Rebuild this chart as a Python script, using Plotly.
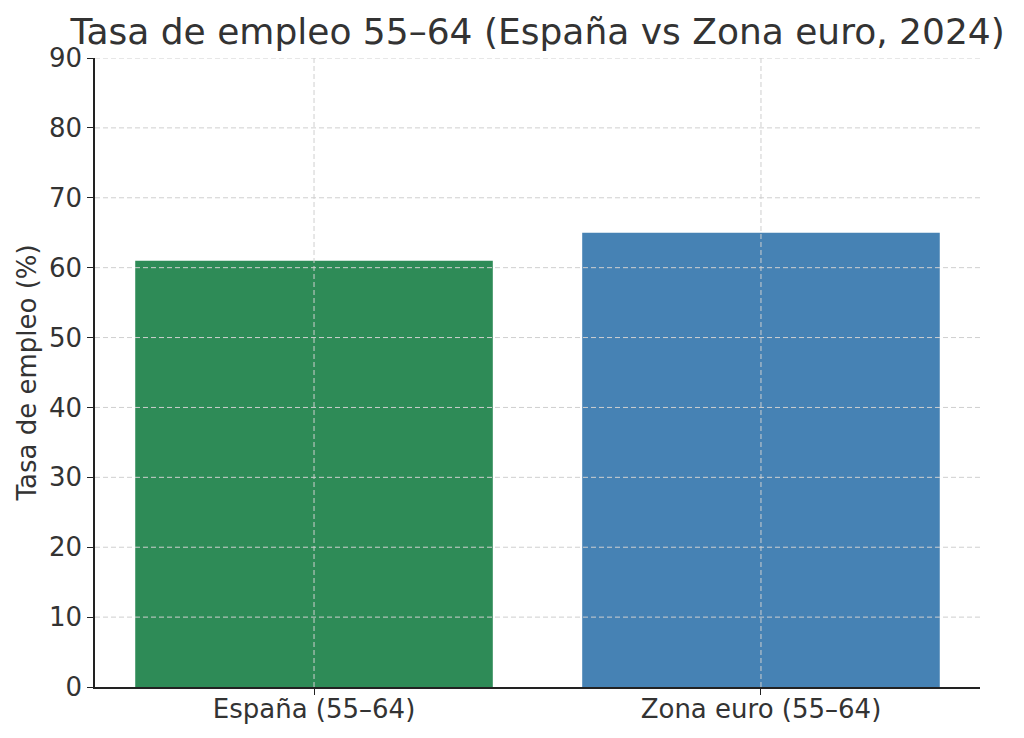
import plotly.graph_objects as go

categories = ["España (55–64)", "Zona euro (55–64)"]
values = [61.0, 65.0]
colors = ["#2E8B57", "#4682B4"]
y_ticks = [0, 10, 20, 30, 40, 50, 60, 70, 80, 90]

FONT = "DejaVu Sans"
TXT = "#333333"

fig = go.Figure()
fig.add_trace(go.Bar(
    x=[0, 1], y=values, width=0.8,
    marker=dict(color=colors, line=dict(width=0)),
    showlegend=False,
))

grid = dict(color="#cfcfcf", width=1, dash="5px,3px")
shapes = []
for t in y_ticks[1:]:
    shapes.append(dict(type="line", xref="paper", x0=0, x1=1, yref="y", y0=t, y1=t,
                       line=grid, layer="above"))
for i in range(len(categories)):
    shapes.append(dict(type="line", xref="x", x0=i, x1=i, yref="paper", y0=0, y1=1,
                       line=grid, layer="above"))

fig.update_layout(
    width=1024, height=738,
    margin=dict(l=95, r=44, t=58, b=51, autoexpand=False),
    paper_bgcolor="white", plot_bgcolor="white",
    font=dict(family=FONT, color=TXT, size=26),
    title=dict(text="Tasa de empleo 55–64 (España vs Zona euro, 2024)",
               x=0.525, xanchor="center", y=0.958, yanchor="middle",
               font=dict(size=36, family=FONT, color=TXT), automargin=False),
    shapes=shapes,
    bargap=0.2,
)
fig.update_xaxes(
    range=[-0.49, 1.49], tickvals=[0, 1], ticktext=categories,
    showgrid=False, zeroline=False, automargin=False,
    showline=True, linecolor="#222222", linewidth=1.6,
    ticks="outside", ticklen=6, tickwidth=1.2, tickcolor="#222222",
    tickfont=dict(size=26, family=FONT, color=TXT),
    ticklabelstandoff=-8,
)
fig.update_yaxes(
    range=[0, 90], tickvals=y_ticks,
    showgrid=False, zeroline=False, automargin=False,
    showline=True, linecolor="#222222", linewidth=1.6,
    ticks="outside", ticklen=6, tickwidth=1.2, tickcolor="#222222",
    tickfont=dict(size=26, family=FONT, color=TXT),
    title=dict(text="Tasa de empleo (%)", font=dict(size=26, family=FONT, color=TXT), standoff=5),
)

fig.write_html("out.html")
